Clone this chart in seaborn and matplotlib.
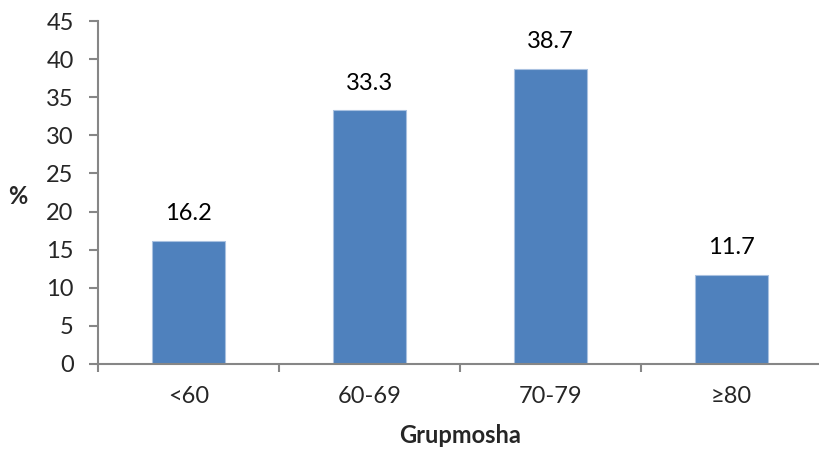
import matplotlib
matplotlib.use("Agg")
import matplotlib.pyplot as plt
import seaborn as sns
import pandas as pd

categories = ["<60", "60-69", "70-79", "≥80"]
values = [16.2, 33.3, 38.7, 11.7]
yticks = [0, 5, 10, 15, 20, 25, 30, 35, 40, 45]

sns.set_theme(style="white")
plt.rcParams["font.family"] = ["Lato", "DejaVu Sans"]

df = pd.DataFrame({"group": categories, "pct": values})

fig = plt.figure(figsize=(8.19, 4.51), dpi=100)
ax = fig.add_axes([98 / 819, 87 / 451, 724 / 819, 343 / 451])

sns.barplot(data=df, x="group", y="pct", color="#4F81BD", width=0.4,
            saturation=1, ax=ax, edgecolor="#A9C1E0", linewidth=0.8)

ax.set_xlim(-0.5, len(categories) - 0.5)
ax.set_ylim(0, 45)
ax.set_yticks(yticks)
ax.set_yticklabels([str(t) for t in yticks])

axis_color = "#868686"
for side in ("top", "right"):
    ax.spines[side].set_visible(False)
for side in ("left", "bottom"):
    ax.spines[side].set_color(axis_color)
    ax.spines[side].set_linewidth(1.5)

fs = 17
ax.tick_params(axis="y", direction="out", length=6.5, width=1.5, color=axis_color,
               labelsize=fs, pad=11, left=True)
ax.tick_params(axis="x", which="major", length=0, labelsize=fs, pad=16)
ax.set_xticks([i - 0.5 for i in range(len(categories) + 1)], minor=True)
ax.tick_params(axis="x", which="minor", direction="out", length=6, width=1.5,
               color=axis_color, bottom=True)

for i, v in enumerate(values):
    ax.annotate(f"{v:.1f}", (i, v), xytext=(0, 12), textcoords="offset points",
                ha="center", va="bottom", fontsize=fs, color="black")

ax.set_xlabel("Grupmosha", fontsize=fs, fontweight="bold", labelpad=12)
ax.set_ylabel("")
fig.text(18 / 819, 1 - 197 / 451, "%", fontsize=fs, fontweight="bold",
         ha="center", va="center")

fig.savefig("out.png", dpi=100)
